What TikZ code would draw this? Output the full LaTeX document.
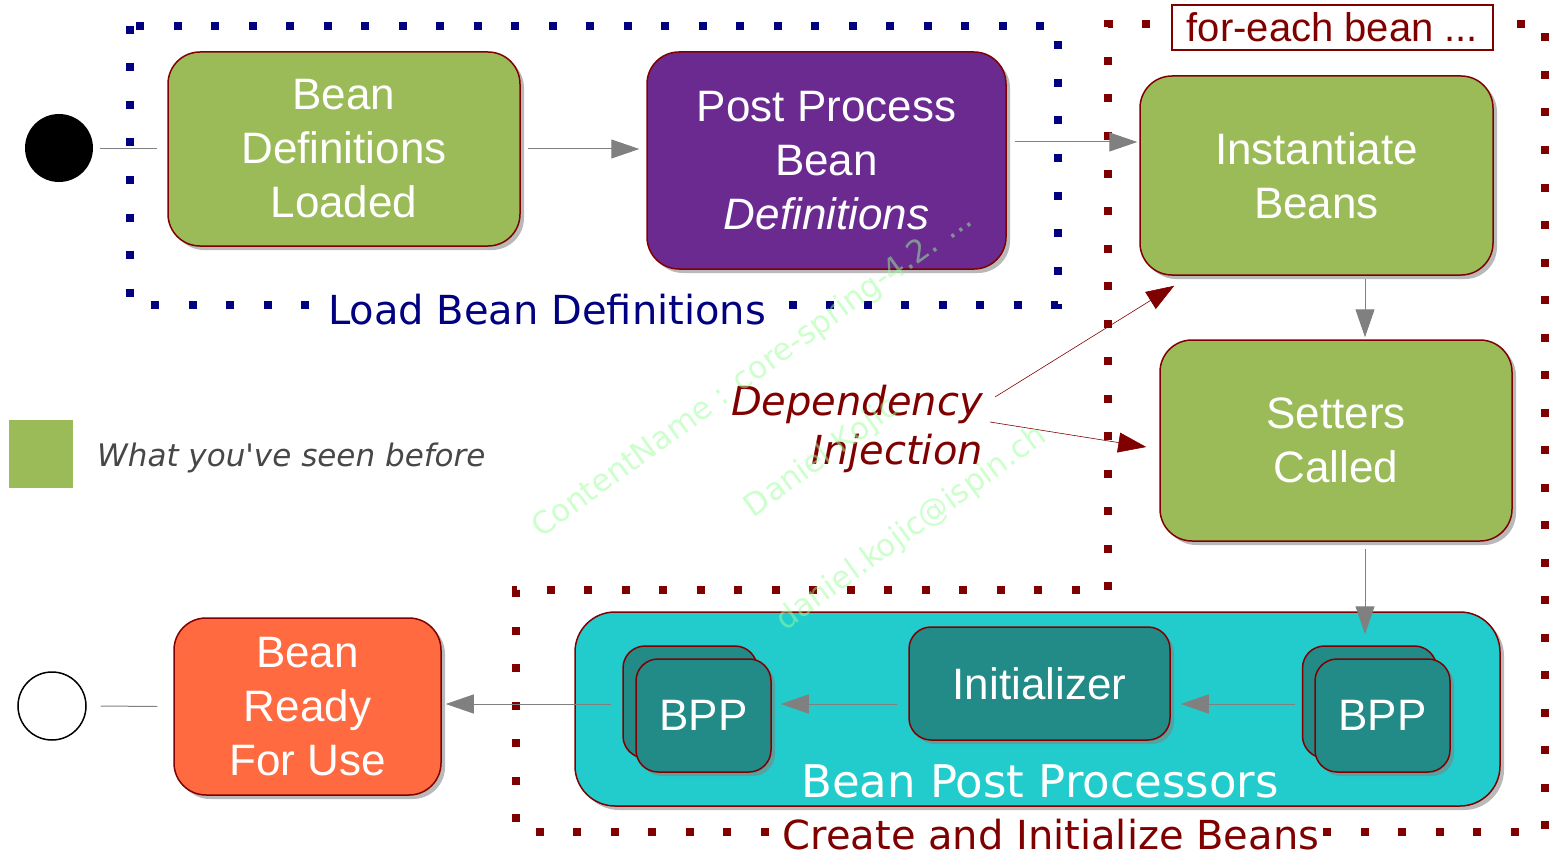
\documentclass[tikz,border=0pt]{standalone}
\usepackage{fontspec}
\setmainfont{Liberation Sans}
\newfontfamily\dvfont{DejaVu Sans}
\usetikzlibrary{arrows.meta,shadows,calc}
\definecolor{bgreen}{HTML}{9BBB59}
\definecolor{bpurple}{HTML}{6A2A90}
\definecolor{borange}{HTML}{FF6A40}
\definecolor{bteal}{HTML}{22CCCC}
\definecolor{bdteal}{HTML}{228A87}
\definecolor{dred}{HTML}{800000}
\definecolor{navyb}{HTML}{000080}
\definecolor{agray}{HTML}{808080}
\definecolor{wmgreen}{HTML}{99FF99}
\newcommand\boxfont{\fontsize{44}{54}\selectfont}
\tikzset{
  statebox/.style={draw=dred, line width=1.5pt, text=white, align=center, inner sep=0pt,
    font=\boxfont, drop shadow={shadow xshift=4pt, shadow yshift=-4pt, fill=black!50, opacity=.55}},
  arr/.style={draw=agray, line width=1pt, -{Triangle[length=28pt,width=19pt]}},
  plainline/.style={draw=agray, line width=1pt},
  darr/.style={draw=dred, line width=0.6pt, -{Triangle[length=28pt,width=20pt]}},
  dotsline/.style={line width=8pt, dash pattern=on 8pt off 29.5pt},
  wm/.style={text=wmgreen, text opacity=.5, font=\dvfont\fontsize{31}{31}\selectfont, rotate=36, inner sep=0pt}
}
\begin{document}
\begin{tikzpicture}[x=1pt,y=-1pt]
\useasboundingbox (0,0) rectangle (1558,864);

% dotted frames
\draw[navyb, dotsline] (130,26) rectangle (1058,305);
\draw[dred, dotsline] (1108,590) -- (1108,24) -- (1545,24) -- (1545,832) -- (516,832) -- (516,590) -- cycle;

% labels on frames
\node[fill=white, text=navyb, font=\dvfont\fontsize{40}{48}\selectfont, inner xsep=8pt, inner ysep=2pt] (lbd) at (547,310) {Load Bean Definitions};
\node[fill=white, draw=dred, line width=1.5pt, text=dred, font=\fontsize{40}{48}\selectfont,
  minimum width=321pt, minimum height=45pt, inner sep=0pt] (fe) at (1332.5,27.5) {for-each bean ...};
\node[fill=white, text=dred, font=\dvfont\fontsize{40}{48}\selectfont, inner xsep=4pt, inner ysep=0pt] (cib) at (1051,835) {Create and Initialize Beans};

% start / end
\node[circle, fill=black, minimum size=68pt, inner sep=0pt] (start) at (59,148) {};
\node[circle, draw=black, line width=1.5pt, minimum size=68pt, inner sep=0pt] (endc) at (52,706) {};

% boxes
\node[statebox, fill=bgreen, minimum width=352pt, minimum height=194pt, rounded corners=32pt] (bdl) at (344,149) {Bean\\Definitions\\Loaded};
\node[statebox, fill=bpurple, minimum width=359pt, minimum height=217pt, rounded corners=32pt] (ppb) at (826.5,160.5) {Post Process\\Bean\\\textit{Definitions}};
\node[statebox, fill=bgreen, minimum width=353pt, minimum height=199pt, rounded corners=32pt] (inst) at (1316.5,175.5) {Instantiate\\Beans};
\node[statebox, fill=bgreen, minimum width=352pt, minimum height=201pt, rounded corners=32pt] (set) at (1336,440.5) {Setters\\Called};
\node[statebox, fill=bteal, minimum width=925pt, minimum height=194pt, rounded corners=40pt] (bppbox) at (1037.5,709) {};
\node[statebox, fill=bdteal, minimum width=261pt, minimum height=113pt, rounded corners=22pt] (init) at (1039.5,683.5) {Initializer};
\node[statebox, fill=bdteal, minimum width=134pt, minimum height=112pt, rounded corners=22pt] (bppLb) at (690,702) {};
\node[statebox, fill=bdteal, minimum width=135pt, minimum height=113pt, rounded corners=22pt] (bppLf) at (703.5,715.5) {BPP};
\node[statebox, fill=bdteal, minimum width=134pt, minimum height=112pt, rounded corners=22pt] (bppRb) at (1369.5,702) {};
\node[statebox, fill=bdteal, minimum width=135pt, minimum height=113pt, rounded corners=22pt] (bppRf) at (1382.5,715.5) {BPP};
\node[statebox, fill=borange, minimum width=267pt, minimum height=177pt, rounded corners=32pt] (ready) at (307.5,706.5) {Bean\\Ready\\For Use};

\node[text=white, font=\dvfont\fontsize{45}{50}\selectfont, inner sep=0pt] (bpplbl) at (1040,781) {Bean Post Processors};

% legend
\node[fill=bgreen, minimum width=64pt, minimum height=68pt, inner sep=0pt] (leg) at (41,454) {};
\node[anchor=west, text=black!72, font=\dvfont\itshape\fontsize{31}{36}\selectfont, inner sep=0pt] (legt) at (97,458) {What you've seen before};

% dependency injection
\node[anchor=east, align=right, text=dred, font=\dvfont\itshape\fontsize{40}{49}\selectfont, inner sep=0pt] (dep) at (983,428.5) {Dependency\\Injection};

% connectors
\draw[plainline] ($(start.east)+(7,1)$) -- ($(bdl.west)+(-10,0)$);
\draw[arr] ($(bdl.east)+(7,0)$) -- ($(bdl.east -| ppb.west)+(-7,0)$);
\draw[arr] ($(ppb.east)+(8,-18.5)$) -- ($(inst.west)+(-2,-33.5)$);
\draw[arr] ($(inst.south)+(48.5,3)$) -- ($(set.north)+(29,-2)$);
\draw[arr] ($(set.south)+(29,7)$) -- ($(bppRb.north)+(-4.5,-11)$);
\draw[arr] ($(bppRb.west)+(-7,2)$) -- ($(init.east)+(10,20.5)$);
\draw[arr] ($(init.west)+(-11,20.5)$) -- ($(bppLf.east)+(9,-11.5)$);
\draw[arr] ($(bppLb.west)+(-11,2)$) -- ($(ready.east)+(4,-2.5)$);
\draw[plainline] ($(ready.west)+(-16,0)$) -- ($(endc.east)+(14,0)$);
\draw[darr] ($(dep.east)+(12,-31.5)$) -- ($(inst.south west)+(35,10)$);
\draw[darr] ($(dep.east)+(7,-6.5)$) -- ($(set.west)+(-13,6.5)$);

% watermark
\node[wm] (wm1) at (753,374) {ContentName : core-spring-4.2. ...};
\node[wm] (wm2) at (822,458) {Daniel Kojic};
\node[wm] (wm3) at (912,529) {daniel.kojic@ispin.ch};
\end{tikzpicture}
\end{document}
